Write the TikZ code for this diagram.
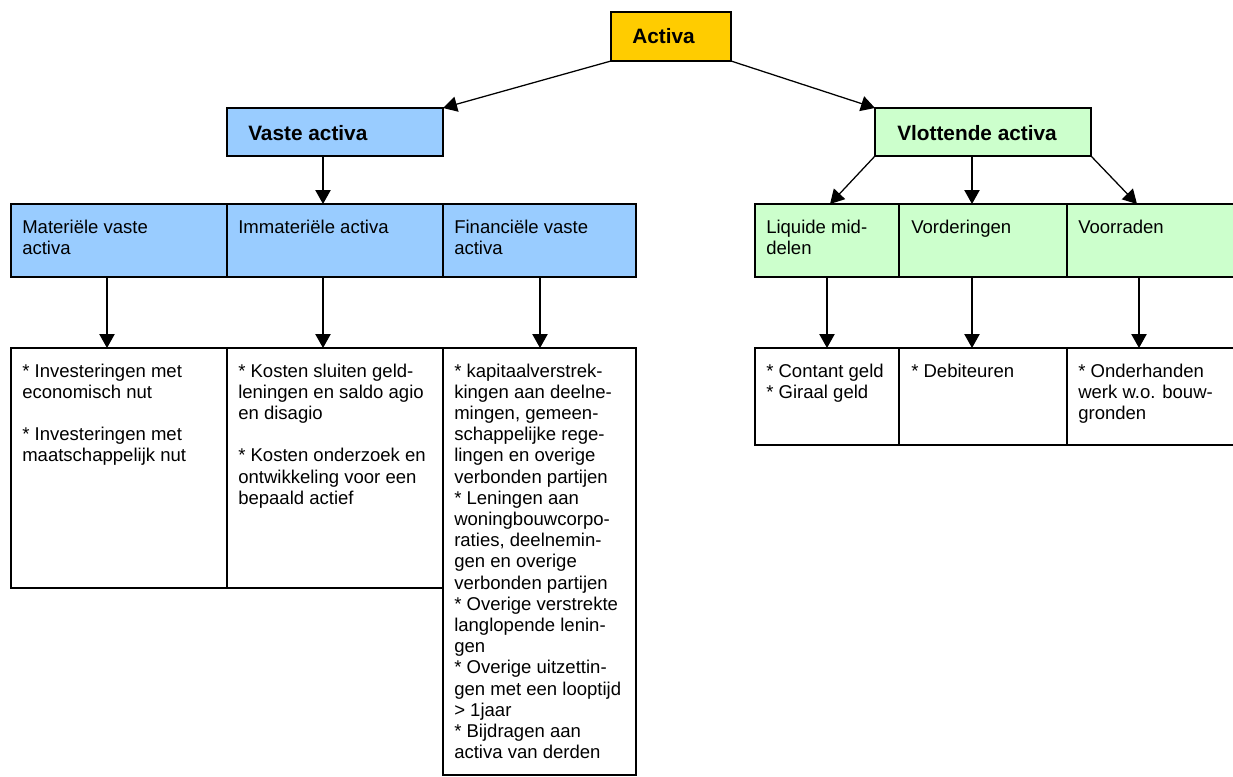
\documentclass[tikz,border=0pt]{standalone}
\usepackage{fontspec}
\setmainfont{Liberation Sans}
\usetikzlibrary{arrows.meta,calc}
\definecolor{gold}{HTML}{FFCC00}
\definecolor{lblue}{HTML}{99CCFF}
\definecolor{lgreen}{HTML}{CCFFCC}
\tikzset{
  box/.style args={#1/#2}{draw=black, line width=0.9pt, minimum width=#1*0.75pt, minimum height=#2*0.75pt, inner sep=0pt, outer sep=0pt},
  arr/.style={line width=0.95pt, -{Triangle[width=11.5pt,length=10.5pt]}},
  txt/.style={anchor=base west, inner sep=0pt, font=\fontsize{13.9}{15.9}\selectfont},
  head/.style={anchor=base west, inner sep=0pt, font=\fontsize{15.6}{18}\selectfont\bfseries},
}
\newcommand{\cell}[1]{\parbox[t]{8cm}{\raggedright #1}}
\begin{document}
\begin{tikzpicture}[x=0.75pt,y=-0.75pt]
\useasboundingbox (0,0) rectangle (1233,776);
% top
\node[box=120/49, fill=gold] (act) at (671,36.5) {};
\node[box=216/48, fill=lblue] (vaste) at (335,132) {};
\node[box=216/48, fill=lgreen] (vlot) at (983,132) {};
% middle left
\node[box=216/73, fill=lblue] (mat) at (119,240.5) {};
\node[box=216/73, fill=lblue] (imm) at (335,240.5) {};
\node[box=193/73, fill=lblue] (fin) at (539.5,240.5) {};
% bottom left
\node[box=216/240] (bmat) at (119,468) {};
\node[box=216/240] (bimm) at (335,468) {};
\node[box=193/427] (bfin) at (539.5,561.5) {};
% middle right
\node[box=144/73, fill=lgreen] (liq) at (827,240.5) {};
\node[box=168/73, fill=lgreen] (vord) at (983,240.5) {};
\node[box=173/73, fill=lgreen] (voor) at (1153.5,240.5) {};
% bottom right
\node[box=144/97] (bliq) at (827,396.5) {};
\node[box=168/97] (bvord) at (983,396.5) {};
\node[box=173/97] (bvoor) at (1153.5,396.5) {};

% headings
\node[head] (tact) at (632,43) {Activa};
\node[head] (tvaste) at (248,140) {Vaste activa};
\node[head] (tvlot) at (897,140) {Vlottende activa};

% middle texts
\node[txt] (tmat) at (22,233) {\cell{Materiële vaste\\activa}};
\node[txt] (timm) at (238,233) {\cell{Immateriële activa}};
\node[txt] (tfin) at (454,233) {\cell{Financiële vaste\\activa}};
\node[txt] (tliq) at (766,233) {\cell{Liquide mid-\\delen}};
\node[txt] (tvord) at (911,233) {\cell{Vorderingen}};
\node[txt] (tvoor) at (1078,233) {\cell{Voorraden}};

% bottom texts
\node[txt] (tbmat) at (22,377) {\cell{* Investeringen met\\economisch nut\\[15.9pt]{}* Investeringen met\\maatschappelijk nut}};
\node[txt] (tbimm) at (238,377) {\cell{* Kosten sluiten geld-\\leningen en saldo agio\\en disagio\\[15.9pt]{}* Kosten onderzoek en\\ontwikkeling voor een\\bepaald actief}};
\node[txt] (tbfin) at (454,377) {\cell{* kapitaalverstrek-\\kingen aan deelne-\\mingen, gemeen-\\schappelijke rege-\\lingen en overige\\verbonden partijen\\{}* Leningen aan\\woningbouwcorpo-\\raties, deelnemin-\\gen en overige\\verbonden partijen\\{}* Overige verstrekte\\langlopende lenin-\\gen\\{}* Overige uitzettin-\\gen met een looptijd\\> 1jaar\\{}* Bijdragen aan\\activa van derden}};
\node[txt] (tbliq) at (766,377) {\cell{* Contant geld\\{}* Giraal geld}};
\node[txt] (tbvord) at (911,377) {\cell{* Debiteuren}};
\node[txt] (tbvoor) at (1078,377) {\cell{* Onderhanden\\werk w.o. bouw-\\gronden}};

% connectors
\draw[arr] (act.south west) -- (vaste.north east);
\draw[arr] (act.south east) -- (vlot.north west);
\draw[arr] ($(vaste.south)+(-12,0)$) -- ($(imm.north)+(-12,0)$);
\draw[arr] (vlot.south west) -- ($(liq.north)+(3,0)$);
\draw[arr] ($(vlot.south)+(-11,0)$) -- ($(vord.north)+(-11,0)$);
\draw[arr] (vlot.south east) -- ($(voor.north)+(-16.5,0)$);
\draw[arr] ($(mat.south)+(-12,0)$) -- ($(bmat.north)+(-12,0)$);
\draw[arr] ($(imm.south)+(-12,0)$) -- ($(bimm.north)+(-12,0)$);
\draw[arr] ($(fin.south)+(0.5,0)$) -- ($(bfin.north)+(0.5,0)$);
\draw[arr] (liq.south) -- (bliq.north);
\draw[arr] ($(vord.south)+(-11,0)$) -- ($(bvord.north)+(-11,0)$);
\draw[arr] ($(voor.south)+(-14.5,0)$) -- ($(bvoor.north)+(-14.5,0)$);
\end{tikzpicture}
\end{document}
